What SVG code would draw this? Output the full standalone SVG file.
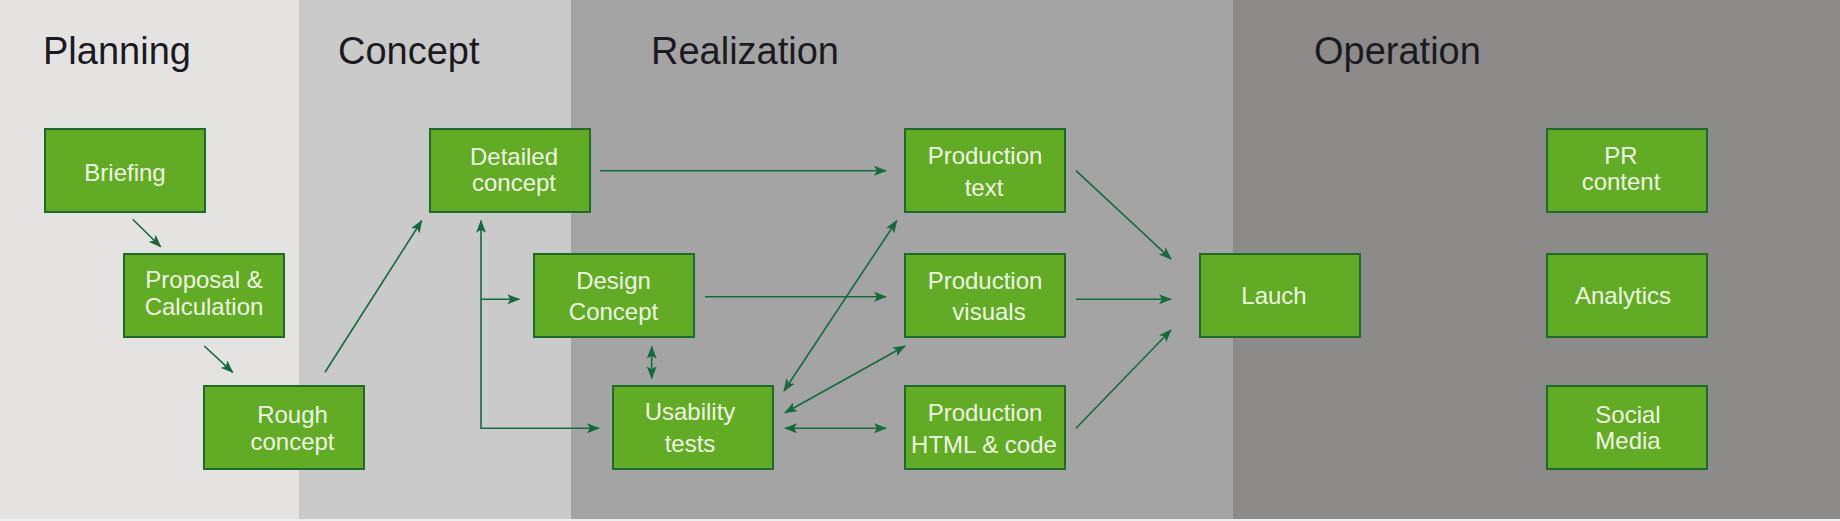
<svg xmlns="http://www.w3.org/2000/svg" width="1840" height="521" viewBox="0 0 1840 521">
<defs>
<style>
.title{font-family:"Liberation Sans",Arial,sans-serif;font-size:38px;fill:#1b1a1f}
.box{fill:#62ab25;stroke:#1d6b2b;stroke-width:2}
.lbl{font-family:"Liberation Sans",Arial,sans-serif;font-size:24px;fill:#eef7e3;text-anchor:middle}
.con{fill:none;stroke:#136a3a;stroke-width:1.6}
</style>
<marker id="ah" markerUnits="userSpaceOnUse" markerWidth="14" markerHeight="10" refX="12" refY="5" orient="auto-start-reverse" viewBox="0 0 14 10">
<path d="M0,0 L13,5 L0,10 L3,5 z" fill="#136a3a"/>
</marker>
</defs>
<g id="bands">
<rect x="0" y="0" width="299" height="519" fill="#e4e3e2"/>
<rect x="299" y="0" width="272" height="519" fill="#cbcaca"/>
<rect x="571" y="0" width="662" height="519" fill="#a5a4a5"/>
<rect x="1233" y="0" width="607" height="519" fill="#8c8b8a"/>
<rect x="0" y="519" width="1840" height="2" fill="#efefef"/>
</g>
<g id="titles">
<text class="title" x="43" y="64">Planning</text>
<text class="title" x="338" y="64">Concept</text>
<text class="title" x="651" y="64">Realization</text>
<text class="title" x="1314" y="64">Operation</text>
</g>
<g id="connectors">
<line class="con" x1="132.7" y1="219.3" x2="160.7" y2="246.7" marker-end="url(#ah)"/>
<line class="con" x1="204.3" y1="346" x2="232.7" y2="372.3" marker-end="url(#ah)"/>
<line class="con" x1="325" y1="372.3" x2="421.7" y2="220.7" marker-end="url(#ah)"/>
<path class="con" d="M481,220.7 L481,428.3 L599,428.3" marker-start="url(#ah)" marker-end="url(#ah)"/>
<line class="con" x1="481" y1="299.3" x2="519.3" y2="299.3" marker-end="url(#ah)"/>
<line class="con" x1="600" y1="170.7" x2="886" y2="170.7" marker-end="url(#ah)"/>
<line class="con" x1="705" y1="296.7" x2="886" y2="296.7" marker-end="url(#ah)"/>
<line class="con" x1="651.7" y1="346.7" x2="651.7" y2="378.3" marker-start="url(#ah)" marker-end="url(#ah)"/>
<line class="con" x1="784" y1="391" x2="896.7" y2="220.7" marker-start="url(#ah)" marker-end="url(#ah)"/>
<line class="con" x1="785" y1="412.7" x2="905" y2="346" marker-start="url(#ah)" marker-end="url(#ah)"/>
<line class="con" x1="785" y1="428.3" x2="886" y2="428.3" marker-start="url(#ah)" marker-end="url(#ah)"/>
<line class="con" x1="1076" y1="170.7" x2="1171" y2="259" marker-end="url(#ah)"/>
<line class="con" x1="1076" y1="299.3" x2="1171" y2="299.3" marker-end="url(#ah)"/>
<line class="con" x1="1076" y1="428.3" x2="1171" y2="330" marker-end="url(#ah)"/>
</g>
<g id="briefing"><rect class="box" x="45" y="129" width="160" height="83"/><text class="lbl" x="125" y="180.5">Briefing</text></g>
<g id="proposal"><rect class="box" x="124" y="254" width="160" height="83"/><text class="lbl" x="204" y="288">Proposal &amp;</text><text class="lbl" x="204" y="315">Calculation</text></g>
<g id="rough"><rect class="box" x="204" y="386" width="160" height="83"/><text class="lbl" x="292.5" y="423">Rough</text><text class="lbl" x="292.5" y="450">concept</text></g>
<g id="detailed"><rect class="box" x="430" y="129" width="160" height="83"/><text class="lbl" x="514" y="165">Detailed</text><text class="lbl" x="514" y="191">concept</text></g>
<g id="design"><rect class="box" x="534" y="254" width="160" height="83"/><text class="lbl" x="613.5" y="288.5">Design</text><text class="lbl" x="613.5" y="320">Concept</text></g>
<g id="usability"><rect class="box" x="613" y="386" width="160" height="83"/><text class="lbl" x="690" y="420">Usability</text><text class="lbl" x="690" y="452">tests</text></g>
<g id="prodtext"><rect class="box" x="905" y="129" width="160" height="83"/><text class="lbl" x="985" y="164">Production</text><text class="lbl" x="984" y="196">text</text></g>
<g id="prodvisuals"><rect class="box" x="905" y="254" width="160" height="83"/><text class="lbl" x="985" y="288.5">Production</text><text class="lbl" x="989" y="320">visuals</text></g>
<g id="prodhtml"><rect class="box" x="905" y="386" width="160" height="83"/><text class="lbl" x="985" y="421">Production</text><text class="lbl" x="984" y="452.5">HTML &amp; code</text></g>
<g id="lauch"><rect class="box" x="1200" y="254" width="160" height="83"/><text class="lbl" x="1274" y="304">Lauch</text></g>
<g id="pr"><rect class="box" x="1547" y="129" width="160" height="83"/><text class="lbl" x="1621" y="163.5">PR</text><text class="lbl" x="1621" y="189.5">content</text></g>
<g id="analytics"><rect class="box" x="1547" y="254" width="160" height="83"/><text class="lbl" x="1623" y="304">Analytics</text></g>
<g id="social"><rect class="box" x="1547" y="386" width="160" height="83"/><text class="lbl" x="1628" y="422.5">Social</text><text class="lbl" x="1628" y="448.5">Media</text></g>
</svg>
